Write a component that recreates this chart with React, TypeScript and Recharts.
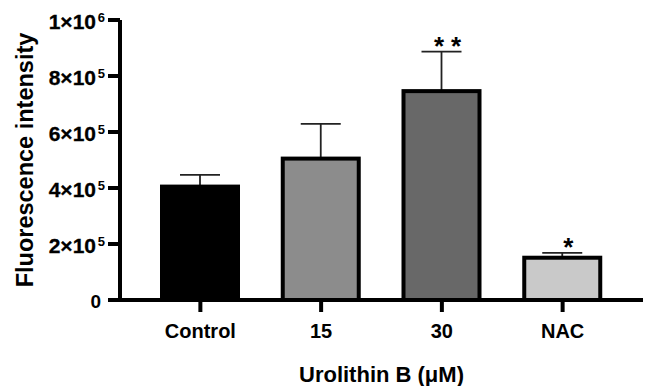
import { BarChart, Bar, XAxis, YAxis, Cell, LabelList } from 'recharts';

const groups = ['Control', '15', '30', 'NAC'];
const means = [405000, 505000, 746000, 151000];
const sems = [42000, 124000, 141000, 17000];
const marks = ['', '', '**', '*'];
const fills = ['#000000', '#8c8c8c', '#686868', '#c9c9c9'];

const yTicks = [0, 200000, 400000, 600000, 800000, 1000000];
const yTickBase = ['0', '2×10', '4×10', '6×10', '8×10', '1×10'];
const yTickExp = ['', '5', '5', '5', '5', '6'];

const FONT = '"Liberation Sans", Arial, sans-serif';

const data = groups.map((g, i) => ({
  name: g,
  value: means[i],
  sig: marks[i],
}));

function YTick(props: any) {
  const { x, y, payload } = props;
  const i = yTicks.indexOf(payload.value);
  if (yTickExp[i] === '') {
    return (
      <text x={x - 5} y={y + 8} textAnchor="end" fontFamily={FONT} fontWeight={700} fontSize={19} fill="#000">
        {yTickBase[i]}
      </text>
    );
  }
  return (
    <g fontFamily={FONT} fontWeight={700} fill="#000">
      <text x={x - 10} y={y + 8.5} textAnchor="end" fontSize={21} stroke="#000" strokeWidth={0.3}>
        {yTickBase[i]}
      </text>
      <text x={x - 1} y={y + 1.5} textAnchor="end" fontSize={13}>
        {yTickExp[i]}
      </text>
    </g>
  );
}

function XTick(props: any) {
  const { x, y, payload } = props;
  return (
    <text x={x} y={y + 24} textAnchor="middle" fontFamily={FONT} fontWeight={700} fontSize={20} fill="#000">
      {payload.value}
    </text>
  );
}

// bar with the upper SEM whisker drawn behind it
function BarWithSem(props: any) {
  const { x, y, width, height, index, fill } = props;
  const pxPerUnit = height / means[index];
  const capY = y - sems[index] * pxPerUnit;
  const cx = x + width / 2;
  return (
    <g>
      <line x1={cx} y1={y} x2={cx} y2={capY} stroke="#222" strokeWidth={1.8} />
      <line x1={cx - 20} y1={capY} x2={cx + 20} y2={capY} stroke="#222" strokeWidth={1.8} />
      <rect x={x} y={y} width={width} height={height} fill={fill} stroke="#000" strokeWidth={4} />
    </g>
  );
}

function SigLabel(props: any) {
  const { x, y, width, height, value, index } = props;
  if (!value) return null;
  const pxPerUnit = height / means[index];
  const capY = y - sems[index] * pxPerUnit;
  return (
    <text
      x={x + width / 2 + 6 + (value.length - 1) * 3.5}
      y={capY + 3.5}
      textAnchor="middle"
      fontFamily={FONT}
      fontWeight={700}
      fontSize={26}
      letterSpacing={value.length > 1 ? 7 : 0}
      fill="#000"
    >
      {value}
    </text>
  );
}

export default function App() {
  return (
    <div style={{ position: 'absolute', left: 0, top: 0, width: 650, height: 386, background: '#fff' }}>
      <BarChart width={650} height={386} data={data} margin={{ top: 20, right: 7, bottom: 0, left: 0 }}>
        <XAxis
          dataKey="name"
          height={86}
          padding={{ left: 20, right: 20 }}
          axisLine={{ stroke: '#000', strokeWidth: 4 }}
          tickLine={{ stroke: '#000', strokeWidth: 4 }}
          tickSize={12}
          tick={<XTick />}
          interval={0}
          label={{
            content: (p: any) => {
              const vb = p.viewBox;
              return (
                <text x={vb.x + vb.width / 2} y={382} textAnchor="middle" fontFamily={FONT} fontWeight={700} fontSize={22} fill="#000">
                  Urolithin B (μM)
                </text>
              );
            },
          }}
        />
        <YAxis
          width={120}
          domain={[0, 1000000]}
          ticks={yTicks}
          interval={0}
          axisLine={{ stroke: '#000', strokeWidth: 4 }}
          tickLine={{ stroke: '#000', strokeWidth: 4 }}
          tickSize={12}
          tick={<YTick />}
          label={{
            content: (p: any) => {
              const vb = p.viewBox;
              const cy = vb.y + vb.height / 2;
              return (
                <text x={33} y={cy} transform={`rotate(-90, 33, ${cy})`} textAnchor="middle" fontFamily={FONT} fontWeight={700} fontSize={23.5} fill="#000">
                  Fluorescence intensity
                </text>
              );
            },
          }}
        />
        <Bar dataKey="value" barSize={76} isAnimationActive={false} shape={<BarWithSem />}>
          {data.map((d, i) => (
            <Cell key={d.name} fill={fills[i]} />
          ))}
          <LabelList dataKey="sig" content={<SigLabel />} />
        </Bar>
      </BarChart>
    </div>
  );
}
